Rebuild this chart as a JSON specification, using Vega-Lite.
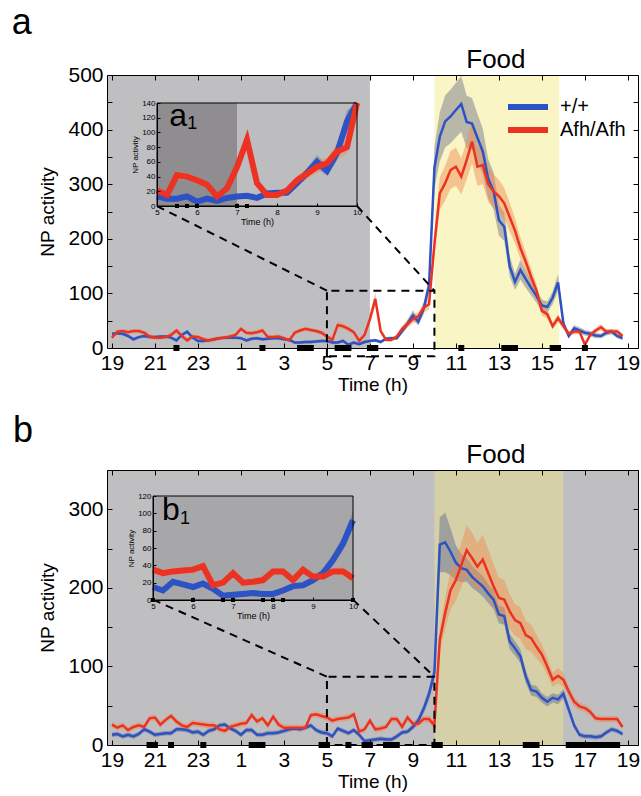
{
"$schema": "https://vega.github.io/schema/vega-lite/v6.json",
"width": 641, "height": 796, "padding": 0, "autosize": {"type": "none"},
"config": {"view": {"stroke": null}, "font": "Liberation Sans",
  "axis": {"grid": false, "zindex": 1, "domainColor": "black", "tickColor": "black", "labelColor": "black", "titleColor": "black", "titleFontWeight": "normal", "labelFlush": false, "labelOverlap": false, "labelFont": "Liberation Sans", "titleFont": "Liberation Sans"},
  "legend": {"labelColor": "black", "labelFont": "Liberation Sans"}},
"datasets": {
"A_wt": [{"t":19,"v":26,"e":3},{"t":19.25,"v":27,"e":3},{"t":19.5,"v":26,"e":3},{"t":19.75,"v":22,"e":3},{"t":20,"v":16,"e":3},{"t":20.25,"v":20,"e":3},{"t":20.5,"v":22,"e":3},{"t":20.75,"v":20,"e":3},{"t":21,"v":20,"e":3},{"t":21.25,"v":21,"e":3},{"t":21.5,"v":21,"e":3},{"t":21.75,"v":19,"e":3},{"t":22,"v":14,"e":3},{"t":22.25,"v":24,"e":3},{"t":22.5,"v":30,"e":3},{"t":22.75,"v":19,"e":3},{"t":23,"v":13,"e":3},{"t":23.25,"v":13,"e":3},{"t":23.5,"v":14,"e":3},{"t":23.75,"v":16,"e":3},{"t":24,"v":18,"e":3},{"t":24.25,"v":19,"e":3},{"t":24.5,"v":19,"e":3},{"t":24.75,"v":19,"e":3},{"t":25,"v":18,"e":3},{"t":25.25,"v":14,"e":3},{"t":25.5,"v":17,"e":3},{"t":25.75,"v":18,"e":3},{"t":26,"v":16,"e":3},{"t":26.25,"v":17,"e":3},{"t":26.5,"v":18,"e":3},{"t":26.75,"v":18,"e":3},{"t":27,"v":16,"e":3},{"t":27.25,"v":15,"e":3},{"t":27.5,"v":10,"e":3},{"t":27.75,"v":10,"e":3},{"t":28,"v":11,"e":3},{"t":28.25,"v":11,"e":3},{"t":28.5,"v":12,"e":3},{"t":28.75,"v":13,"e":3},{"t":29,"v":13,"e":3},{"t":29.25,"v":10,"e":3},{"t":29.5,"v":10,"e":3},{"t":29.75,"v":13,"e":3},{"t":30,"v":6,"e":3},{"t":30.25,"v":10,"e":3},{"t":30.5,"v":7,"e":3},{"t":30.75,"v":11,"e":3},{"t":31,"v":13,"e":3},{"t":31.25,"v":14,"e":3},{"t":31.5,"v":11,"e":3},{"t":31.75,"v":17,"e":3},{"t":32,"v":18,"e":3},{"t":32.25,"v":18,"e":3},{"t":32.5,"v":31,"e":5},{"t":32.75,"v":45,"e":7},{"t":33,"v":60,"e":9},{"t":33.25,"v":48,"e":7},{"t":33.5,"v":72,"e":10},{"t":33.75,"v":115,"e":15},{"t":34,"v":330,"e":38},{"t":34.25,"v":387,"e":45},{"t":34.5,"v":415,"e":48},{"t":34.75,"v":424,"e":49},{"t":35,"v":436,"e":50},{"t":35.25,"v":447,"e":51},{"t":35.5,"v":414,"e":48},{"t":35.75,"v":411,"e":47},{"t":36,"v":385,"e":44},{"t":36.25,"v":360,"e":42},{"t":36.5,"v":310,"e":36},{"t":36.75,"v":288,"e":34},{"t":37,"v":234,"e":28},{"t":37.25,"v":222,"e":26},{"t":37.5,"v":150,"e":19},{"t":37.75,"v":121,"e":15},{"t":38,"v":143,"e":18},{"t":38.25,"v":126,"e":16},{"t":38.5,"v":110,"e":14},{"t":38.75,"v":95,"e":12},{"t":39,"v":78,"e":11},{"t":39.25,"v":75,"e":10},{"t":39.5,"v":92,"e":12},{"t":39.75,"v":120,"e":15},{"t":40,"v":45,"e":7},{"t":40.25,"v":22,"e":4},{"t":40.5,"v":36,"e":6},{"t":40.75,"v":32,"e":6},{"t":41,"v":28,"e":5},{"t":41.25,"v":26,"e":5},{"t":41.5,"v":23,"e":5},{"t":41.75,"v":22,"e":4},{"t":42,"v":28,"e":5},{"t":42.25,"v":30,"e":5},{"t":42.5,"v":22,"e":4},{"t":42.75,"v":18,"e":4}],
"A_mut": [{"t":19,"v":19,"e":4},{"t":19.25,"v":30,"e":4},{"t":19.5,"v":31,"e":4},{"t":19.75,"v":29,"e":4},{"t":20,"v":31,"e":4},{"t":20.25,"v":31,"e":4},{"t":20.5,"v":28,"e":4},{"t":20.75,"v":21,"e":4},{"t":21,"v":19,"e":4},{"t":21.25,"v":19,"e":4},{"t":21.5,"v":20,"e":4},{"t":21.75,"v":24,"e":4},{"t":22,"v":32,"e":4},{"t":22.25,"v":22,"e":4},{"t":22.5,"v":14,"e":4},{"t":22.75,"v":21,"e":4},{"t":23,"v":20,"e":4},{"t":23.25,"v":16,"e":4},{"t":23.5,"v":14,"e":4},{"t":23.75,"v":16,"e":4},{"t":24,"v":18,"e":4},{"t":24.25,"v":19,"e":4},{"t":24.5,"v":21,"e":4},{"t":24.75,"v":24,"e":4},{"t":25,"v":35,"e":4},{"t":25.25,"v":28,"e":4},{"t":25.5,"v":27,"e":4},{"t":25.75,"v":29,"e":4},{"t":26,"v":32,"e":4},{"t":26.25,"v":20,"e":4},{"t":26.5,"v":20,"e":4},{"t":26.75,"v":21,"e":4},{"t":27,"v":18,"e":4},{"t":27.25,"v":14,"e":4},{"t":27.5,"v":28,"e":4},{"t":27.75,"v":32,"e":4},{"t":28,"v":35,"e":4},{"t":28.25,"v":33,"e":4},{"t":28.5,"v":31,"e":4},{"t":28.75,"v":28,"e":4},{"t":29,"v":21,"e":4},{"t":29.25,"v":15,"e":4},{"t":29.5,"v":42,"e":6},{"t":29.75,"v":40,"e":5},{"t":30,"v":35,"e":5},{"t":30.25,"v":29,"e":4},{"t":30.5,"v":13,"e":4},{"t":30.75,"v":24,"e":4},{"t":31,"v":53,"e":7},{"t":31.25,"v":90,"e":12},{"t":31.5,"v":31,"e":5},{"t":31.75,"v":15,"e":4},{"t":32,"v":15,"e":4},{"t":32.25,"v":21,"e":4},{"t":32.5,"v":35,"e":6},{"t":32.75,"v":44,"e":7},{"t":33,"v":53,"e":8},{"t":33.25,"v":58,"e":8},{"t":33.5,"v":74,"e":10},{"t":33.75,"v":80,"e":10},{"t":34,"v":190,"e":21},{"t":34.25,"v":283,"e":30},{"t":34.5,"v":302,"e":32},{"t":34.75,"v":326,"e":35},{"t":35,"v":332,"e":35},{"t":35.25,"v":314,"e":33},{"t":35.5,"v":344,"e":36},{"t":35.75,"v":378,"e":40},{"t":36,"v":332,"e":35},{"t":36.25,"v":335,"e":35},{"t":36.5,"v":300,"e":32},{"t":36.75,"v":287,"e":31},{"t":37,"v":278,"e":30},{"t":37.25,"v":265,"e":28},{"t":37.5,"v":240,"e":26},{"t":37.75,"v":215,"e":23},{"t":38,"v":183,"e":20},{"t":38.25,"v":158,"e":18},{"t":38.5,"v":130,"e":15},{"t":38.75,"v":105,"e":12},{"t":39,"v":68,"e":9},{"t":39.25,"v":62,"e":8},{"t":39.5,"v":40,"e":6},{"t":39.75,"v":55,"e":7},{"t":40,"v":40,"e":6},{"t":40.25,"v":26,"e":5},{"t":40.5,"v":30,"e":5},{"t":40.75,"v":30,"e":5},{"t":41,"v":6,"e":4},{"t":41.25,"v":24,"e":4},{"t":41.5,"v":32,"e":5},{"t":41.75,"v":38,"e":6},{"t":42,"v":30,"e":5},{"t":42.25,"v":30,"e":5},{"t":42.5,"v":30,"e":5},{"t":42.75,"v":22,"e":5}],
"B_wt": [{"t":19,"v":13,"e":3},{"t":19.25,"v":14,"e":3},{"t":19.5,"v":11,"e":3},{"t":19.75,"v":13,"e":3},{"t":20,"v":11,"e":3},{"t":20.25,"v":14,"e":3},{"t":20.5,"v":20,"e":3},{"t":20.75,"v":17,"e":3},{"t":21,"v":13,"e":3},{"t":21.25,"v":14,"e":3},{"t":21.5,"v":15,"e":3},{"t":21.75,"v":15,"e":3},{"t":22,"v":20,"e":3},{"t":22.25,"v":20,"e":3},{"t":22.5,"v":19,"e":3},{"t":22.75,"v":16,"e":3},{"t":23,"v":17,"e":3},{"t":23.25,"v":13,"e":3},{"t":23.5,"v":18,"e":3},{"t":23.75,"v":20,"e":3},{"t":24,"v":25,"e":3},{"t":24.25,"v":26,"e":3},{"t":24.5,"v":21,"e":3},{"t":24.75,"v":18,"e":3},{"t":25,"v":13,"e":3},{"t":25.25,"v":19,"e":3},{"t":25.5,"v":19,"e":3},{"t":25.75,"v":13,"e":3},{"t":26,"v":13,"e":3},{"t":26.25,"v":15,"e":3},{"t":26.5,"v":15,"e":3},{"t":26.75,"v":16,"e":3},{"t":27,"v":18,"e":3},{"t":27.25,"v":20,"e":3},{"t":27.5,"v":21,"e":3},{"t":27.75,"v":20,"e":3},{"t":28,"v":22,"e":3},{"t":28.25,"v":25,"e":3},{"t":28.5,"v":19,"e":3},{"t":28.75,"v":16,"e":3},{"t":29,"v":15,"e":3},{"t":29.25,"v":11,"e":3},{"t":29.5,"v":21,"e":3},{"t":29.75,"v":18,"e":3},{"t":30,"v":15,"e":3},{"t":30.25,"v":19,"e":3},{"t":30.5,"v":13,"e":3},{"t":30.75,"v":5,"e":3},{"t":31,"v":6,"e":3},{"t":31.25,"v":7,"e":3},{"t":31.5,"v":8,"e":3},{"t":31.75,"v":7,"e":3},{"t":32,"v":7,"e":3},{"t":32.25,"v":11,"e":3},{"t":32.5,"v":16,"e":3},{"t":32.75,"v":17,"e":3},{"t":33,"v":23,"e":4},{"t":33.25,"v":31,"e":5},{"t":33.5,"v":46,"e":6},{"t":33.75,"v":65,"e":8},{"t":34,"v":92,"e":10},{"t":34.25,"v":255,"e":35},{"t":34.5,"v":258,"e":38},{"t":34.75,"v":246,"e":30},{"t":35,"v":232,"e":22},{"t":35.25,"v":225,"e":18},{"t":35.5,"v":223,"e":15},{"t":35.75,"v":214,"e":14},{"t":36,"v":208,"e":13},{"t":36.25,"v":202,"e":13},{"t":36.5,"v":193,"e":12},{"t":36.75,"v":185,"e":12},{"t":37,"v":166,"e":11},{"t":37.25,"v":164,"e":11},{"t":37.5,"v":132,"e":10},{"t":37.75,"v":123,"e":9},{"t":38,"v":113,"e":9},{"t":38.25,"v":87,"e":8},{"t":38.5,"v":70,"e":7},{"t":38.75,"v":68,"e":7},{"t":39,"v":60,"e":6},{"t":39.25,"v":55,"e":6},{"t":39.5,"v":60,"e":6},{"t":39.75,"v":58,"e":6},{"t":40,"v":65,"e":6},{"t":40.25,"v":45,"e":5},{"t":40.5,"v":25,"e":4},{"t":40.75,"v":13,"e":3},{"t":41,"v":11,"e":3},{"t":41.25,"v":11,"e":3},{"t":41.5,"v":10,"e":3},{"t":41.75,"v":11,"e":3},{"t":42,"v":16,"e":3},{"t":42.25,"v":20,"e":3},{"t":42.5,"v":18,"e":3},{"t":42.75,"v":14,"e":3}],
"B_mut": [{"t":19,"v":26,"e":4},{"t":19.25,"v":22,"e":4},{"t":19.5,"v":25,"e":4},{"t":19.75,"v":19,"e":4},{"t":20,"v":23,"e":4},{"t":20.25,"v":25,"e":4},{"t":20.5,"v":23,"e":4},{"t":20.75,"v":34,"e":4},{"t":21,"v":35,"e":4},{"t":21.25,"v":26,"e":4},{"t":21.5,"v":32,"e":4},{"t":21.75,"v":37,"e":4},{"t":22,"v":30,"e":4},{"t":22.25,"v":25,"e":4},{"t":22.5,"v":23,"e":4},{"t":22.75,"v":28,"e":4},{"t":23,"v":27,"e":4},{"t":23.25,"v":26,"e":4},{"t":23.5,"v":25,"e":4},{"t":23.75,"v":25,"e":4},{"t":24,"v":20,"e":4},{"t":24.25,"v":18,"e":4},{"t":24.5,"v":23,"e":4},{"t":24.75,"v":25,"e":4},{"t":25,"v":27,"e":4},{"t":25.25,"v":28,"e":4},{"t":25.5,"v":38,"e":4},{"t":25.75,"v":30,"e":4},{"t":26,"v":34,"e":4},{"t":26.25,"v":25,"e":4},{"t":26.5,"v":36,"e":4},{"t":26.75,"v":26,"e":4},{"t":27,"v":22,"e":4},{"t":27.25,"v":22,"e":4},{"t":27.5,"v":22,"e":4},{"t":27.75,"v":22,"e":4},{"t":28,"v":22,"e":4},{"t":28.25,"v":38,"e":4},{"t":28.5,"v":39,"e":4},{"t":28.75,"v":37,"e":4},{"t":29,"v":35,"e":4},{"t":29.25,"v":31,"e":4},{"t":29.5,"v":33,"e":4},{"t":29.75,"v":34,"e":4},{"t":30,"v":35,"e":4},{"t":30.25,"v":39,"e":4},{"t":30.5,"v":17,"e":4},{"t":30.75,"v":20,"e":4},{"t":31,"v":31,"e":4},{"t":31.25,"v":20,"e":4},{"t":31.5,"v":21,"e":4},{"t":31.75,"v":23,"e":4},{"t":32,"v":33,"e":4},{"t":32.25,"v":33,"e":4},{"t":32.5,"v":23,"e":4},{"t":32.75,"v":35,"e":4},{"t":33,"v":27,"e":4},{"t":33.25,"v":27,"e":4},{"t":33.5,"v":33,"e":4},{"t":33.75,"v":33,"e":5},{"t":34,"v":25,"e":5},{"t":34.25,"v":134,"e":15},{"t":34.5,"v":168,"e":20},{"t":34.75,"v":197,"e":24},{"t":35,"v":210,"e":26},{"t":35.25,"v":229,"e":28},{"t":35.5,"v":248,"e":32},{"t":35.75,"v":238,"e":32},{"t":36,"v":227,"e":30},{"t":36.25,"v":236,"e":32},{"t":36.5,"v":219,"e":30},{"t":36.75,"v":202,"e":28},{"t":37,"v":187,"e":26},{"t":37.25,"v":185,"e":25},{"t":37.5,"v":170,"e":22},{"t":37.75,"v":159,"e":20},{"t":38,"v":155,"e":20},{"t":38.25,"v":140,"e":18},{"t":38.5,"v":136,"e":17},{"t":38.75,"v":125,"e":15},{"t":39,"v":115,"e":13},{"t":39.25,"v":100,"e":11},{"t":39.5,"v":83,"e":9},{"t":39.75,"v":88,"e":10},{"t":40,"v":83,"e":9},{"t":40.25,"v":68,"e":7},{"t":40.5,"v":55,"e":6},{"t":40.75,"v":49,"e":5},{"t":41,"v":47,"e":5},{"t":41.25,"v":42,"e":5},{"t":41.5,"v":34,"e":4},{"t":41.75,"v":33,"e":4},{"t":42,"v":33,"e":4},{"t":42.25,"v":33,"e":4},{"t":42.5,"v":33,"e":4},{"t":42.75,"v":23,"e":4}],
"bg": [{"p":"a","k":"night","x1":18.77,"x2":31},{"p":"a","k":"food","x1":34,"x2":39.8},{"p":"b","k":"night","x1":18.77,"x2":43.47},{"p":"b","k":"foodb","x1":34,"x2":40},{"p":"ai","k":"idark","x1":29,"x2":31},{"p":"ai","k":"ilight","x1":31,"x2":34},{"p":"bi","k":"ib","x1":29,"x2":34}],
"sig": [{"p":"a","t":22},{"p":"a","t":26},{"p":"a","t":27.75},{"p":"a","t":28},{"p":"a","t":28.25},{"p":"a","t":29.5},{"p":"a","t":29.75},{"p":"a","t":30},{"p":"a","t":31},{"p":"a","t":31.25},{"p":"a","t":35.25},{"p":"a","t":37.25},{"p":"a","t":37.5},{"p":"a","t":37.75},{"p":"a","t":39.5},{"p":"a","t":39.75},{"p":"a","t":41},
 {"p":"b","t":20.75},{"p":"b","t":21},{"p":"b","t":21.75},{"p":"b","t":23.25},{"p":"b","t":25.5},{"p":"b","t":25.75},{"p":"b","t":26},{"p":"b","t":28.75},{"p":"b","t":29},{"p":"b","t":30},{"p":"b","t":30.75},{"p":"b","t":31},{"p":"b","t":31.75},{"p":"b","t":32},{"p":"b","t":32.25},{"p":"b","t":34},{"p":"b","t":34.25},{"p":"b","t":38.25},{"p":"b","t":38.5},{"p":"b","t":38.75},{"p":"b","t":40.25},{"p":"b","t":40.5},{"p":"b","t":40.75},{"p":"b","t":41},{"p":"b","t":41.25},{"p":"b","t":41.5},{"p":"b","t":41.75},{"p":"b","t":42},{"p":"b","t":42.25},{"p":"b","t":42.5}],
"zA": [{"s":"box","o":0,"t":29,"v":-15},{"s":"box","o":1,"t":29,"v":105},{"s":"box","o":2,"t":34,"v":105},{"s":"box","o":3,"t":34,"v":-15},{"s":"box","o":4,"t":29,"v":-15},{"s":"c1","o":0,"t":21.09,"v":260},{"s":"c1","o":1,"t":29,"v":105},{"s":"c2","o":0,"t":30.4,"v":260},{"s":"c2","o":1,"t":34,"v":105}],
"zB": [{"s":"box","o":0,"t":29,"v":0},{"s":"box","o":1,"t":29,"v":87},{"s":"box","o":2,"t":34,"v":87},{"s":"box","o":3,"t":34,"v":0},{"s":"box","o":4,"t":29,"v":0},{"s":"c1","o":0,"t":20.91,"v":185},{"s":"c1","o":1,"t":29,"v":87},{"s":"c2","o":0,"t":30.21,"v":185},{"s":"c2","o":1,"t":34,"v":87}],
"one": [{}]
},
"resolve": {"scale": {"x": "independent", "y": "independent"}, "axis": {"x": "independent", "y": "independent"}},
"layer": [
{"layer": [
  {"data": {"name": "bg"}, "transform": [{"filter": "datum.p == 'a'"}], "mark": "rect",
   "encoding": {"x": {"field": "x1", "type": "quantitative", "title": "Time (h)", "scale": {"domain": [18.77, 43.47], "range": [107, 638], "nice": false, "zero": false},
      "axis": {"orient": "bottom", "offset": -448, "zindex": 1, "values": [19,21,23,25,27,29,31,33,35,37,39,41,43], "labelExpr": "'' + (datum.value % 24)", "title": "Time (h)", "tickSize": -5, "labelPadding": 9, "labelFontSize": 21, "titleFontSize": 19, "titlePadding": 2}},
    "x2": {"field": "x2"},
    "y": {"datum": 0, "type": "quantitative", "title": "NP activity", "scale": {"domain": [0, 500], "range": [348, 75], "nice": false, "zero": false},
      "axis": {"orient": "left", "offset": -107, "zindex": 1, "values": [0,50,100,150,200,250,300,350,400,450,500], "labelExpr": "datum.value % 100 == 0 ? datum.label : ''", "title": "NP activity", "tickSize": -5, "labelPadding": 9, "labelFontSize": 21, "titleFontSize": 19, "titlePadding": 10}},
    "y2": {"datum": 500},
    "fill": {"field": "k", "type": "nominal", "scale": {"domain": ["night","food","foodb","idark","ilight","ib"], "range": ["#bfbfc2","#faf5c4","#d5d0a8","#8f8d90","#bdbdc0","#a7a7aa"]}, "legend": null}}},
  {"data": {"name": "A_wt"}, "mark": {"type": "errorband", "color": "#8e8e96", "opacity": 0.6},
   "encoding": {"x": {"field": "t", "type": "quantitative", "title": "Time (h)", "scale": {"domain": [18.77, 43.47], "range": [107, 638], "nice": false, "zero": false}},
    "y": {"field": "v", "type": "quantitative", "title": "NP activity", "scale": {"domain": [0, 500], "range": [348, 75], "nice": false, "zero": false}}, "yError": {"field": "e"}}},
  {"data": {"name": "A_mut"}, "mark": {"type": "errorband", "color": "#f08850", "opacity": 0.45},
   "encoding": {"x": {"field": "t", "type": "quantitative", "title": "Time (h)", "scale": {"domain": [18.77, 43.47], "range": [107, 638], "nice": false, "zero": false}},
    "y": {"field": "v", "type": "quantitative", "title": "NP activity", "scale": {"domain": [0, 500], "range": [348, 75], "nice": false, "zero": false}}, "yError": {"field": "e"}}},
  {"data": {"name": "A_wt"}, "mark": {"type": "line", "strokeWidth": 2.5},
   "encoding": {"x": {"field": "t", "type": "quantitative", "title": "Time (h)", "scale": {"domain": [18.77, 43.47], "range": [107, 638], "nice": false, "zero": false}},
    "y": {"field": "v", "type": "quantitative", "title": "NP activity", "scale": {"domain": [0, 500], "range": [348, 75], "nice": false, "zero": false}},
    "color": {"datum": "+/+", "type": "nominal", "scale": {"domain": ["+/+", "Afh/Afh"], "range": ["#2d52c4", "#eb3223"]},
      "legend": {"orient": "none", "legendX": 518, "legendY": 97, "title": null, "padding": 0, "symbolType": "M-4,0H4", "symbolSize": 100, "symbolStrokeWidth": 6, "symbolFillColor": "transparent", "labelFontSize": 20, "labelOffset": 22, "rowPadding": -1}}}},
  {"data": {"name": "A_mut"}, "mark": {"type": "line", "strokeWidth": 2.5},
   "encoding": {"x": {"field": "t", "type": "quantitative", "title": "Time (h)", "scale": {"domain": [18.77, 43.47], "range": [107, 638], "nice": false, "zero": false}},
    "y": {"field": "v", "type": "quantitative", "title": "NP activity", "scale": {"domain": [0, 500], "range": [348, 75], "nice": false, "zero": false}},
    "color": {"datum": "Afh/Afh", "type": "nominal"}}},
  {"data": {"name": "sig"}, "transform": [{"filter": "datum.p == 'a'"}], "mark": {"type": "point", "shape": "square", "filled": true, "color": "black", "size": 36, "opacity": 1},
   "encoding": {"x": {"field": "t", "type": "quantitative", "title": "Time (h)", "scale": {"domain": [18.77, 43.47], "range": [107, 638], "nice": false, "zero": false}},
    "y": {"datum": 0, "type": "quantitative", "title": "NP activity", "scale": {"domain": [0, 500], "range": [348, 75], "nice": false, "zero": false}}}},
  {"data": {"name": "zA"}, "mark": {"type": "line", "color": "black", "strokeWidth": 2, "strokeDash": [8, 6]},
   "encoding": {"x": {"field": "t", "type": "quantitative", "title": "Time (h)", "scale": {"domain": [18.77, 43.47], "range": [107, 638], "nice": false, "zero": false}},
    "y": {"field": "v", "type": "quantitative", "title": "NP activity", "scale": {"domain": [0, 500], "range": [348, 75], "nice": false, "zero": false}},
    "detail": {"field": "s"}, "order": {"field": "o"}}},
  {"data": {"name": "one"}, "mark": {"type": "text", "text": "Food", "fontSize": 26, "baseline": "middle", "align": "center", "color": "black"},
   "encoding": {"x": {"datum": 36.86, "type": "quantitative", "title": "Time (h)", "scale": {"domain": [18.77, 43.47], "range": [107, 638], "nice": false, "zero": false}},
    "y": {"datum": 527, "type": "quantitative", "title": "NP activity", "scale": {"domain": [0, 500], "range": [348, 75], "nice": false, "zero": false}}}},
  {"data": {"name": "one"}, "mark": {"type": "text", "text": "a", "fontSize": 36, "baseline": "alphabetic", "align": "center", "color": "black"},
   "encoding": {"x": {"datum": 14.81, "type": "quantitative", "title": "Time (h)", "scale": {"domain": [18.77, 43.47], "range": [107, 638], "nice": false, "zero": false}},
    "y": {"datum": 575, "type": "quantitative", "title": "NP activity", "scale": {"domain": [0, 500], "range": [348, 75], "nice": false, "zero": false}}}}
]},
{"data": {"name": "one"}, "mark": {"type": "rect", "fillOpacity": 0, "strokeOpacity": 0},
 "encoding": {"x": {"datum": 18.77, "type": "quantitative", "scale": {"domain": [18.77, 43.47], "range": [107, 638], "nice": false, "zero": false},
   "axis": {"orient": "top", "offset": -75, "zindex": 1, "values": [19,21,23,25,27,29,31,33,35,37,39,41,43], "labels": false, "tickSize": -5, "title": null}},
  "x2": {"datum": 43.47},
  "y": {"datum": 0, "type": "quantitative", "scale": {"domain": [0, 500], "range": [348, 75], "nice": false, "zero": false},
   "axis": {"orient": "right", "offset": -3, "zindex": 1, "values": [0,50,100,150,200,250,300,350,400,450,500], "labels": false, "tickSize": -5, "title": null}},
  "y2": {"datum": 500}}},
{"layer": [
  {"data": {"name": "bg"}, "transform": [{"filter": "datum.p == 'ai'"}], "mark": "rect",
   "encoding": {"x": {"field": "x1", "type": "quantitative", "scale": {"domain": [29, 34], "range": [157, 357], "nice": false, "zero": false}, "axis": null},
    "x2": {"field": "x2"},
    "y": {"datum": 0, "type": "quantitative", "scale": {"domain": [0, 140], "range": [206, 103], "nice": false, "zero": false, "clamp": true}, "axis": null},
    "y2": {"datum": 140},
    "fill": {"field": "k", "type": "nominal", "legend": null}}},
  {"data": {"name": "A_wt"}, "transform": [{"filter": "datum.t >= 29 && datum.t <= 34"}], "mark": {"type": "errorband", "color": "#6a6f90", "opacity": 0.5},
   "encoding": {"x": {"field": "t", "type": "quantitative", "scale": {"domain": [29, 34], "range": [157, 357], "nice": false, "zero": false}, "axis": null},
    "y": {"field": "v", "type": "quantitative", "scale": {"domain": [0, 140], "range": [206, 103], "nice": false, "zero": false, "clamp": true}, "axis": null}, "yError": {"field": "e"}}},
  {"data": {"name": "A_mut"}, "transform": [{"filter": "datum.t >= 29 && datum.t <= 34"}], "mark": {"type": "errorband", "color": "#f08850", "opacity": 0.45},
   "encoding": {"x": {"field": "t", "type": "quantitative", "scale": {"domain": [29, 34], "range": [157, 357], "nice": false, "zero": false}, "axis": null},
    "y": {"field": "v", "type": "quantitative", "scale": {"domain": [0, 140], "range": [206, 103], "nice": false, "zero": false, "clamp": true}, "axis": null}, "yError": {"field": "e"}}},
  {"data": {"name": "A_wt"}, "transform": [{"filter": "datum.t >= 29 && datum.t <= 34"}], "mark": {"type": "line", "strokeWidth": 6},
   "encoding": {"x": {"field": "t", "type": "quantitative", "scale": {"domain": [29, 34], "range": [157, 357], "nice": false, "zero": false}, "axis": null},
    "y": {"field": "v", "type": "quantitative", "scale": {"domain": [0, 140], "range": [206, 103], "nice": false, "zero": false, "clamp": true}, "axis": null},
    "color": {"datum": "+/+", "type": "nominal"}}},
  {"data": {"name": "A_mut"}, "transform": [{"filter": "datum.t >= 29 && datum.t <= 34"}], "mark": {"type": "line", "strokeWidth": 6},
   "encoding": {"x": {"field": "t", "type": "quantitative", "scale": {"domain": [29, 34], "range": [157, 357], "nice": false, "zero": false}, "axis": null},
    "y": {"field": "v", "type": "quantitative", "scale": {"domain": [0, 140], "range": [206, 103], "nice": false, "zero": false, "clamp": true}, "axis": null},
    "color": {"datum": "Afh/Afh", "type": "nominal"}}},
  {"data": {"name": "sig"}, "transform": [{"filter": "datum.p == 'a' && datum.t >= 29 && datum.t <= 34"}], "mark": {"type": "point", "shape": "square", "filled": true, "color": "black", "size": 16, "opacity": 1},
   "encoding": {"x": {"field": "t", "type": "quantitative", "scale": {"domain": [29, 34], "range": [157, 357], "nice": false, "zero": false}, "axis": null},
    "y": {"datum": 0, "type": "quantitative", "scale": {"domain": [0, 140], "range": [206, 103], "nice": false, "zero": false, "clamp": true}, "axis": null}}},
  {"data": {"name": "one"}, "mark": {"type": "text", "text": "a", "fontSize": 32, "baseline": "middle", "align": "center", "color": "black"},
   "encoding": {"x": {"datum": 29.53, "type": "quantitative", "scale": {"domain": [29, 34], "range": [157, 357], "nice": false, "zero": false}, "axis": null},
    "y": {"datum": 122, "type": "quantitative", "scale": {"domain": [0, 140], "range": [206, 103], "nice": false, "zero": false, "clamp": true}, "axis": null}}},
  {"data": {"name": "one"}, "mark": {"type": "text", "text": "1", "fontSize": 18, "baseline": "middle", "align": "center", "color": "black"},
   "encoding": {"x": {"datum": 29.88, "type": "quantitative", "scale": {"domain": [29, 34], "range": [157, 357], "nice": false, "zero": false}, "axis": null},
    "y": {"datum": 112, "type": "quantitative", "scale": {"domain": [0, 140], "range": [206, 103], "nice": false, "zero": false, "clamp": true}, "axis": null}}}
]},
{"data": {"name": "one"}, "mark": {"type": "rect", "fillOpacity": 0, "stroke": "black", "strokeWidth": 1},
 "encoding": {"x": {"datum": 29, "type": "quantitative", "scale": {"domain": [29, 34], "range": [157, 357], "nice": false, "zero": false},
   "axis": {"orient": "bottom", "offset": -590, "zindex": 1, "values": [29,30,31,32,33,34], "labelExpr": "'' + (datum.value - 24)", "title": "Time (h)", "tickSize": -3, "labelPadding": 5, "labelFontSize": 8, "titleFontSize": 9, "titlePadding": 1}},
  "x2": {"datum": 34},
  "y": {"datum": 0, "type": "quantitative", "scale": {"domain": [0, 140], "range": [206, 103], "nice": false, "zero": false},
   "axis": {"orient": "left", "offset": -157, "zindex": 1, "values": [0,20,40,60,80,100,120,140], "title": "NP activity", "tickSize": -3, "labelPadding": 5, "labelFontSize": 8, "titleFontSize": 8, "titlePadding": 2}},
  "y2": {"datum": 140}}},
{"layer": [
  {"data": {"name": "bg"}, "transform": [{"filter": "datum.p == 'b'"}], "mark": "rect",
   "encoding": {"x": {"field": "x1", "type": "quantitative", "title": "Time (h)", "scale": {"domain": [18.77, 43.47], "range": [107, 638], "nice": false, "zero": false},
      "axis": {"orient": "bottom", "offset": -51, "zindex": 1, "values": [19,21,23,25,27,29,31,33,35,37,39,41,43], "labelExpr": "'' + (datum.value % 24)", "title": "Time (h)", "tickSize": -5, "labelPadding": 9, "labelFontSize": 21, "titleFontSize": 19, "titlePadding": 2}},
    "x2": {"field": "x2"},
    "y": {"datum": 0, "type": "quantitative", "title": "NP activity", "scale": {"domain": [0, 350], "range": [745, 470], "nice": false, "zero": false},
      "axis": {"orient": "left", "offset": -107, "zindex": 1, "values": [0,50,100,150,200,250,300,350], "labelExpr": "datum.value % 100 == 0 ? datum.label : ''", "title": "NP activity", "tickSize": -5, "labelPadding": 9, "labelFontSize": 21, "titleFontSize": 19, "titlePadding": 10}},
    "y2": {"datum": 350},
    "fill": {"field": "k", "type": "nominal", "legend": null}}},
  {"data": {"name": "B_wt"}, "mark": {"type": "errorband", "color": "#6a6f90", "opacity": 0.5},
   "encoding": {"x": {"field": "t", "type": "quantitative", "title": "Time (h)", "scale": {"domain": [18.77, 43.47], "range": [107, 638], "nice": false, "zero": false}},
    "y": {"field": "v", "type": "quantitative", "title": "NP activity", "scale": {"domain": [0, 350], "range": [745, 470], "nice": false, "zero": false}}, "yError": {"field": "e"}}},
  {"data": {"name": "B_mut"}, "mark": {"type": "errorband", "color": "#f08850", "opacity": 0.45},
   "encoding": {"x": {"field": "t", "type": "quantitative", "title": "Time (h)", "scale": {"domain": [18.77, 43.47], "range": [107, 638], "nice": false, "zero": false}},
    "y": {"field": "v", "type": "quantitative", "title": "NP activity", "scale": {"domain": [0, 350], "range": [745, 470], "nice": false, "zero": false}}, "yError": {"field": "e"}}},
  {"data": {"name": "B_wt"}, "mark": {"type": "line", "strokeWidth": 2.5},
   "encoding": {"x": {"field": "t", "type": "quantitative", "title": "Time (h)", "scale": {"domain": [18.77, 43.47], "range": [107, 638], "nice": false, "zero": false}},
    "y": {"field": "v", "type": "quantitative", "title": "NP activity", "scale": {"domain": [0, 350], "range": [745, 470], "nice": false, "zero": false}},
    "color": {"datum": "+/+", "type": "nominal"}}},
  {"data": {"name": "B_mut"}, "mark": {"type": "line", "strokeWidth": 2.5},
   "encoding": {"x": {"field": "t", "type": "quantitative", "title": "Time (h)", "scale": {"domain": [18.77, 43.47], "range": [107, 638], "nice": false, "zero": false}},
    "y": {"field": "v", "type": "quantitative", "title": "NP activity", "scale": {"domain": [0, 350], "range": [745, 470], "nice": false, "zero": false}},
    "color": {"datum": "Afh/Afh", "type": "nominal"}}},
  {"data": {"name": "sig"}, "transform": [{"filter": "datum.p == 'b'"}], "mark": {"type": "point", "shape": "square", "filled": true, "color": "black", "size": 36, "opacity": 1},
   "encoding": {"x": {"field": "t", "type": "quantitative", "title": "Time (h)", "scale": {"domain": [18.77, 43.47], "range": [107, 638], "nice": false, "zero": false}},
    "y": {"datum": 0, "type": "quantitative", "title": "NP activity", "scale": {"domain": [0, 350], "range": [745, 470], "nice": false, "zero": false}}}},
  {"data": {"name": "zB"}, "mark": {"type": "line", "color": "black", "strokeWidth": 2, "strokeDash": [8, 6]},
   "encoding": {"x": {"field": "t", "type": "quantitative", "title": "Time (h)", "scale": {"domain": [18.77, 43.47], "range": [107, 638], "nice": false, "zero": false}},
    "y": {"field": "v", "type": "quantitative", "title": "NP activity", "scale": {"domain": [0, 350], "range": [745, 470], "nice": false, "zero": false}},
    "detail": {"field": "s"}, "order": {"field": "o"}}},
  {"data": {"name": "one"}, "mark": {"type": "text", "text": "Food", "fontSize": 26, "baseline": "middle", "align": "center", "color": "black"},
   "encoding": {"x": {"datum": 36.86, "type": "quantitative", "title": "Time (h)", "scale": {"domain": [18.77, 43.47], "range": [107, 638], "nice": false, "zero": false}},
    "y": {"datum": 369, "type": "quantitative", "title": "NP activity", "scale": {"domain": [0, 350], "range": [745, 470], "nice": false, "zero": false}}}},
  {"data": {"name": "one"}, "mark": {"type": "text", "text": "b", "fontSize": 36, "baseline": "alphabetic", "align": "center", "color": "black"},
   "encoding": {"x": {"datum": 14.86, "type": "quantitative", "title": "Time (h)", "scale": {"domain": [18.77, 43.47], "range": [107, 638], "nice": false, "zero": false}},
    "y": {"datum": 386, "type": "quantitative", "title": "NP activity", "scale": {"domain": [0, 350], "range": [745, 470], "nice": false, "zero": false}}}}
]},
{"data": {"name": "one"}, "mark": {"type": "rect", "fillOpacity": 0, "strokeOpacity": 0},
 "encoding": {"x": {"datum": 18.77, "type": "quantitative", "scale": {"domain": [18.77, 43.47], "range": [107, 638], "nice": false, "zero": false},
   "axis": {"orient": "top", "offset": -470, "zindex": 1, "values": [19,21,23,25,27,29,31,33,35,37,39,41,43], "labels": false, "tickSize": -5, "title": null}},
  "x2": {"datum": 43.47},
  "y": {"datum": 0, "type": "quantitative", "scale": {"domain": [0, 350], "range": [745, 470], "nice": false, "zero": false},
   "axis": {"orient": "right", "offset": -3, "zindex": 1, "values": [0,50,100,150,200,250,300,350], "labels": false, "tickSize": -5, "title": null}},
  "y2": {"datum": 350}}},
{"layer": [
  {"data": {"name": "bg"}, "transform": [{"filter": "datum.p == 'bi'"}], "mark": "rect",
   "encoding": {"x": {"field": "x1", "type": "quantitative", "scale": {"domain": [29, 34], "range": [153, 353], "nice": false, "zero": false}, "axis": null},
    "x2": {"field": "x2"},
    "y": {"datum": 0, "type": "quantitative", "scale": {"domain": [0, 120], "range": [600, 496], "nice": false, "zero": false, "clamp": true}, "axis": null},
    "y2": {"datum": 120},
    "fill": {"field": "k", "type": "nominal", "legend": null}}},
  {"data": {"name": "B_wt"}, "transform": [{"filter": "datum.t >= 29 && datum.t <= 34"}], "mark": {"type": "errorband", "color": "#6a6f90", "opacity": 0.5},
   "encoding": {"x": {"field": "t", "type": "quantitative", "scale": {"domain": [29, 34], "range": [153, 353], "nice": false, "zero": false}, "axis": null},
    "y": {"field": "v", "type": "quantitative", "scale": {"domain": [0, 120], "range": [600, 496], "nice": false, "zero": false, "clamp": true}, "axis": null}, "yError": {"field": "e"}}},
  {"data": {"name": "B_mut"}, "transform": [{"filter": "datum.t >= 29 && datum.t <= 34"}], "mark": {"type": "errorband", "color": "#f08850", "opacity": 0.45},
   "encoding": {"x": {"field": "t", "type": "quantitative", "scale": {"domain": [29, 34], "range": [153, 353], "nice": false, "zero": false}, "axis": null},
    "y": {"field": "v", "type": "quantitative", "scale": {"domain": [0, 120], "range": [600, 496], "nice": false, "zero": false, "clamp": true}, "axis": null}, "yError": {"field": "e"}}},
  {"data": {"name": "B_wt"}, "transform": [{"filter": "datum.t >= 29 && datum.t <= 34"}], "mark": {"type": "line", "strokeWidth": 6},
   "encoding": {"x": {"field": "t", "type": "quantitative", "scale": {"domain": [29, 34], "range": [153, 353], "nice": false, "zero": false}, "axis": null},
    "y": {"field": "v", "type": "quantitative", "scale": {"domain": [0, 120], "range": [600, 496], "nice": false, "zero": false, "clamp": true}, "axis": null},
    "color": {"datum": "+/+", "type": "nominal"}}},
  {"data": {"name": "B_mut"}, "transform": [{"filter": "datum.t >= 29 && datum.t <= 34"}], "mark": {"type": "line", "strokeWidth": 6},
   "encoding": {"x": {"field": "t", "type": "quantitative", "scale": {"domain": [29, 34], "range": [153, 353], "nice": false, "zero": false}, "axis": null},
    "y": {"field": "v", "type": "quantitative", "scale": {"domain": [0, 120], "range": [600, 496], "nice": false, "zero": false, "clamp": true}, "axis": null},
    "color": {"datum": "Afh/Afh", "type": "nominal"}}},
  {"data": {"name": "sig"}, "transform": [{"filter": "datum.p == 'b' && datum.t >= 29 && datum.t <= 34"}], "mark": {"type": "point", "shape": "square", "filled": true, "color": "black", "size": 16, "opacity": 1},
   "encoding": {"x": {"field": "t", "type": "quantitative", "scale": {"domain": [29, 34], "range": [153, 353], "nice": false, "zero": false}, "axis": null},
    "y": {"datum": 0, "type": "quantitative", "scale": {"domain": [0, 120], "range": [600, 496], "nice": false, "zero": false, "clamp": true}, "axis": null}}},
  {"data": {"name": "one"}, "mark": {"type": "text", "text": "b", "fontSize": 32, "baseline": "middle", "align": "center", "color": "black"},
   "encoding": {"x": {"datum": 29.45, "type": "quantitative", "scale": {"domain": [29, 34], "range": [153, 353], "nice": false, "zero": false}, "axis": null},
    "y": {"datum": 104, "type": "quantitative", "scale": {"domain": [0, 120], "range": [600, 496], "nice": false, "zero": false, "clamp": true}, "axis": null}}},
  {"data": {"name": "one"}, "mark": {"type": "text", "text": "1", "fontSize": 18, "baseline": "middle", "align": "center", "color": "black"},
   "encoding": {"x": {"datum": 29.8, "type": "quantitative", "scale": {"domain": [29, 34], "range": [153, 353], "nice": false, "zero": false}, "axis": null},
    "y": {"datum": 93, "type": "quantitative", "scale": {"domain": [0, 120], "range": [600, 496], "nice": false, "zero": false, "clamp": true}, "axis": null}}}
]},
{"data": {"name": "one"}, "mark": {"type": "rect", "fillOpacity": 0, "stroke": "black", "strokeWidth": 1},
 "encoding": {"x": {"datum": 29, "type": "quantitative", "scale": {"domain": [29, 34], "range": [153, 353], "nice": false, "zero": false},
   "axis": {"orient": "bottom", "offset": -196, "zindex": 1, "values": [29,30,31,32,33,34], "labelExpr": "'' + (datum.value - 24)", "title": "Time (h)", "tickSize": -3, "labelPadding": 5, "labelFontSize": 8, "titleFontSize": 9, "titlePadding": 1}},
  "x2": {"datum": 34},
  "y": {"datum": 0, "type": "quantitative", "scale": {"domain": [0, 120], "range": [600, 496], "nice": false, "zero": false},
   "axis": {"orient": "left", "offset": -153, "zindex": 1, "values": [0,20,40,60,80,100,120], "title": "NP activity", "tickSize": -3, "labelPadding": 5, "labelFontSize": 8, "titleFontSize": 8, "titlePadding": 2}},
  "y2": {"datum": 120}}}
]
}
